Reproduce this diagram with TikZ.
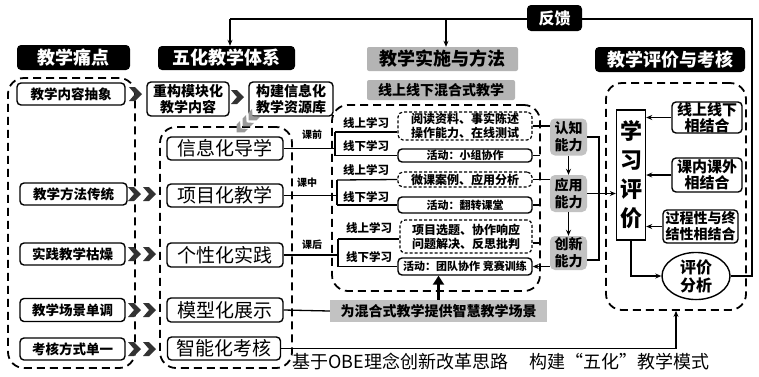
\documentclass[tikz,border=0pt]{standalone}
\usepackage{fontspec}
\setmainfont{Noto Sans CJK SC}
\usetikzlibrary{arrows.meta,shapes.geometric}
\definecolor{hgrey}{HTML}{B4B4B4}
\definecolor{agrey}{HTML}{C2C2C2}
\definecolor{cgrey}{HTML}{333333}
\definecolor{lgrey}{HTML}{999999}
\tikzset{
 blk/.style={fill=black,text=white,rounded corners=4pt,inner sep=0pt,font=\bfseries\fontsize{18}{20}\selectfont},
 gryhdr/.style={fill=hgrey,rounded corners=2pt,inner sep=0pt,font=\bfseries\fontsize{18}{20}\selectfont},
 wbox/.style={draw,line width=1.4pt,fill=white,rounded corners=4pt,inner sep=0pt,align=center},
 dbox/.style={draw,line width=1.2pt,dash pattern=on 3pt off 2pt,fill=white,rounded corners=5pt,inner sep=0pt,align=center},
 outl/.style={draw,line width=1.8pt,dash pattern=on 8pt off 5pt,rounded corners=16pt,inner sep=0pt},
 abil/.style={fill=agrey,rounded corners=5pt,inner sep=0pt,align=center,font=\bfseries\fontsize{14}{17}\selectfont},
 conn/.style={line width=1.3pt},
 arr/.style={line width=1.3pt,-{Stealth[length=6pt,width=5pt]}},
 sz/.style 2 args={minimum width=#1,minimum height=#2},
 lf/.style={font=\bfseries\fontsize{13.5}{15}\selectfont},
 mf/.style={font=\fontsize{19}{21}\selectfont},
 sf/.style={font=\bfseries\fontsize{11.5}{13}\selectfont},
 chev/.pic={\fill[cgrey] (0,-7) -- (6,-7) -- (13,0) -- (6,7) -- (0,7) -- (6,0) -- cycle;},
 chevl/.pic={\fill[lgrey] (0,-7) -- (6,-7) -- (13,0) -- (6,7) -- (0,7) -- (6,0) -- cycle;},
}
\begin{document}
\begin{tikzpicture}[x=1pt,y=-1pt]
\useasboundingbox[fill=white] (0,0) rectangle (759,376);
% dashed outlines
\node[outl,sz={127pt}{290pt}] (ld) at (71.5,223) {};
\node[outl,sz={132pt}{241pt}] (md) at (226,247.5) {};
\node[outl,sz={208pt}{186pt}] (hd) at (436,198) {};
\node[outl,sz={140pt}{227pt}] (rd) at (676,196.5) {};
% headers
\node[blk,sz={113pt}{25pt}] (hA) at (73.5,57.5) {教学痛点};
\node[blk,sz={137pt}{24pt}] (hB) at (226.5,58) {五化教学体系};
\node[gryhdr,sz={151pt}{24pt}] (hC) at (442.5,59) {教学实施与方法};
\node[blk,sz={150pt}{25pt}] (hD) at (670,59.5) {教学评价与考核};
\node[gryhdr,sz={148pt}{20pt},font=\bfseries\fontsize{14}{16}\selectfont] (hE) at (441,90) {线上线下混合式教学};
% feedback loop
\node[ellipse,draw,line width=1.4pt,fill=white,inner sep=0pt,sz={68pt}{38pt},align=center,font=\bfseries\fontsize{16}{18}\selectfont] (e4) at (696,276) {评价\\分析};
\coordinate (fR1) at (752,276);
\coordinate (fR2) at (752,19);
\coordinate (fL) at (230,19);
\coordinate (fM) at (446,19);
\draw[conn] (e4.east) -- (fR1) -- (fR2) -- (fL);
\draw[arr] (fL) -- (fL |- hB.north);
\draw[arr] (fM) -- (fM |- hC.north);
\node[blk,sz={55pt}{26pt},font=\bfseries\fontsize{16}{18}\selectfont] (fb) at (554.5,18) {反馈};
% left column
\node[wbox,lf,sz={108pt}{22pt}] (p1) at (71,94) {教学内容抽象};
\node[wbox,lf,sz={107pt}{22pt}] (p2) at (73.5,194) {教学方法传统};
\node[wbox,lf,sz={105pt}{22pt}] (p3) at (72.5,254) {实践教学枯燥};
\node[wbox,lf,sz={105pt}{23pt}] (p4) at (72.5,310) {教学场景单调};
\node[wbox,lf,sz={105pt}{22pt}] (p5) at (72.5,349) {考核方式单一};
% middle column
\node[wbox,align=center,font=\bfseries\fontsize{14}{16}\selectfont,sz={82pt}{34pt}] (m1) at (188,99) {重构模块化\\教学内容};
\node[wbox,align=center,font=\bfseries\fontsize{14}{16}\selectfont,sz={84pt}{34pt}] (m2) at (291,99) {构建信息化\\教学资源库};
\node[wbox,mf,sz={116pt}{23pt}] (f1) at (225,148.5) {信息化导学};
\node[wbox,mf,sz={116pt}{23pt}] (f2) at (225,195.5) {项目化教学};
\node[wbox,mf,sz={116pt}{24pt}] (f3) at (225,255) {个性化实践};
\node[wbox,mf,sz={116pt}{24pt}] (f4) at (225,310) {模型化展示};
\node[wbox,mf,sz={113pt}{23pt}] (f5) at (224,348.5) {智能化考核};
% chevrons
\pic at (129,94) {chev};
\pic at (231,97) {chev};
\foreach \yy in {194,254,310,349}{\pic at (128,\yy) {chev}; \pic at (143,\yy) {chev};}
\pic[rotate=225,scale=0.8] at (256,113) {chevl};
\pic[rotate=225,scale=0.8] at (250,119) {chevl};
\pic[rotate=225,scale=0.8] at (244,125) {chevl};
% session labels
\node[font=\bfseries\fontsize{10}{12}\selectfont] (l1) at (312,135) {课前};
\node[font=\bfseries\fontsize{10}{12}\selectfont] (l2) at (307,183) {课中};
\node[font=\bfseries\fontsize{10}{12}\selectfont] (l3) at (312,245) {课后};
% activity boxes
\node[dbox,font=\bfseries\fontsize{12}{14}\selectfont,sz={134pt}{28pt}] (r1a) at (465,126) {阅读资料、事实陈述\\操作能力、在线测试};
\node[wbox,font=\bfseries\fontsize{11}{13}\selectfont,sz={134pt}{13pt}] (r1b) at (465,155.5) {活动：小组协作};
\node[dbox,font=\bfseries\fontsize{12}{14}\selectfont,sz={134pt}{15pt}] (r2a) at (465,179.5) {微课案例、应用分析};
\node[wbox,font=\bfseries\fontsize{11}{13}\selectfont,sz={134pt}{16pt}] (r2b) at (465,205) {活动：翻转课堂};
\node[dbox,font=\bfseries\fontsize{12}{14}\selectfont,sz={132pt}{33pt}] (r3a) at (466,236.5) {项目选题、协作响应\\问题解决、反思批判};
\node[wbox,font=\bfseries\fontsize{11}{13}\selectfont,sz={134pt}{17pt}] (r3b) at (465,266.5) {活动：团队协作 竞赛训练};
% online/offline labels
\node[sf] (o1) at (366,123) {线上学习};
\node[sf] (d1) at (366,146) {线下学习};
\node[sf] (o2) at (366,170) {线上学习};
\node[sf] (d2) at (366,197) {线下学习};
\node[sf] (o3) at (369,228) {线上学习};
\node[sf] (d3) at (369,257) {线下学习};
% brackets
\coordinate (k1) at (335,148.5); \coordinate (k1u) at (335,132); \coordinate (k1d) at (335,155.5);
\coordinate (k2) at (337,195.5); \coordinate (k2u) at (337,180); \coordinate (k2d) at (337,205);
\coordinate (k3) at (338,255); \coordinate (k3u) at (338,239); \coordinate (k3d) at (338,266.5);
\draw[conn] (f1.east) -- (k1); \draw[conn] (k1u) -- (k1d); \draw[conn] (k1u) -- (r1a.west |- k1u); \draw[conn] (k1d) -- (r1b.west);
\draw[conn] (f2.east) -- (k2); \draw[conn] (k2u) -- (k2d); \draw[conn] (k2u) -- (r2a.west); \draw[conn] (k2d) -- (r2b.west);
\draw[conn] (f3.east) -- (k3); \draw[conn] (k3u) -- (k3d); \draw[conn] (k3u) -- (r3a.west |- k3u); \draw[conn] (k3d) -- (r3b.west);
% abilities
\node[abil,sz={37pt}{37pt}] (a1) at (568.5,137) {认知\\能力};
\node[abil,sz={37pt}{37pt}] (a2) at (568.5,193.5) {应用\\能力};
\node[abil,sz={37pt}{34pt}] (a3) at (568.5,253) {创新\\能力};
\draw[arr] (a1.south) -- (a2.north);
\draw[arr] (a2.south) -- (a3.north);
\coordinate (t1) at (540,155.5); \coordinate (t2) at (540,205); \coordinate (t3) at (540,243);
\draw[conn] (r1a.east) -- (a1.west |- r1a.east);
\draw[conn] (r1b.east) -- (t1);
\draw[conn] (r2a.east) -- (a2.west |- r2a.east);
\draw[conn] (r2b.east) -- (t2);
\draw[conn] (r3a.east |- t3) -- (t3);
\draw[arr] (a3.west |- r3b.east) -- (r3b.east);
% evaluation
\node[draw,line width=1.4pt,fill=white,inner sep=0pt,sz={29pt}{130pt},align=center,font=\bfseries\fontsize{22}{29}\selectfont] (le) at (631,175) {学\\习\\评\\价};
\coordinate (j1) at (599,137); \coordinate (j3) at (599,260);
\draw[conn] (a1.east) -- (j1) -- (j1 |- a2.east);
\draw[conn] (a3.east |- j3) -- (j3) -- (j3 |- a2.east);
\draw[arr] (a2.east) -- (le.west |- a2.east);
\node[wbox,font=\bfseries\fontsize{15}{16}\selectfont,sz={70pt}{31pt}] (e1) at (707,117.5) {线上线下\\相结合};
\node[wbox,font=\bfseries\fontsize{15}{16}\selectfont,sz={70pt}{34pt}] (e2) at (707,175) {课内课外\\相结合};
\node[wbox,font=\bfseries\fontsize{14}{16}\selectfont,sz={75pt}{33pt}] (e3) at (700.5,226.5) {过程性与终\\结性相结合};
\draw[arr] (e1.west) -- (le.east |- e1.west);
\draw[arr] (e2.west) -- (le.east |- e2.west);
\draw[arr] (e3.west) -- (le.east |- e3.west);
\draw[arr] (le.south) -- (le.south |- e4.west) -- (e4.west);
% scene box
\node[fill=agrey,inner sep=0pt,sz={217pt}{22pt},font=\bfseries\fontsize{14}{16}\selectfont] (sc) at (438.5,311) {为混合式教学提供智慧教学场景};
\draw[conn] (f4.east) -- (sc.west);
\draw[line width=3pt,-{Triangle[length=9pt,width=11pt]}] (sc.north) -- (sc.north |- r3b.south);
% exam line
\draw[arr] (f5.east) -- (f5.east -| rd.south) -- (rd.south);
% bottom caption
\node[font=\fontsize{18}{20}\selectfont] (cap) at (501,362) {基于OBE理念创新改革思路\hspace{1.2em}构建“五化”教学模式};
\end{tikzpicture}
\end{document}
